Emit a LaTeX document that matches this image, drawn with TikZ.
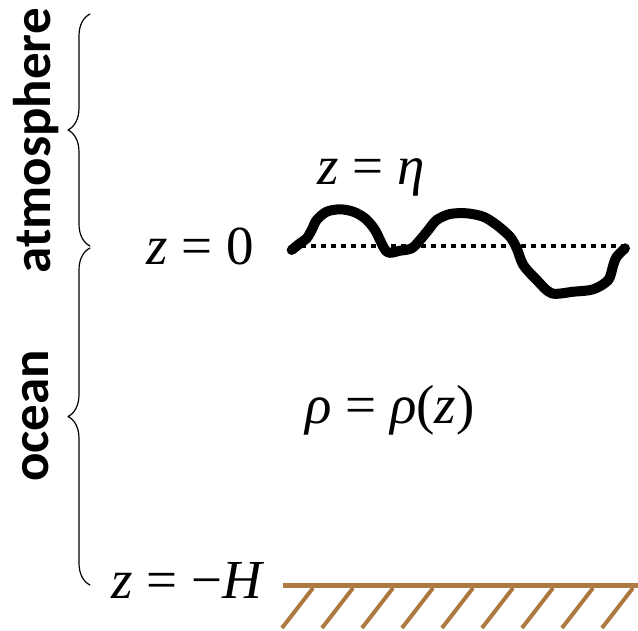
\documentclass[tikz,border=0pt]{standalone}
\usepackage{fontspec}
\setmainfont{Liberation Serif}
\newfontfamily\sidefont{Carlito}
\usetikzlibrary{decorations.pathreplacing}
\definecolor{seabed}{RGB}{173,123,66}
\begin{document}
\begin{tikzpicture}[x=1pt,y=-1pt,line join=round,line cap=round,
  eq/.style={inner sep=0pt,font=\fontsize{55}{55}\selectfont},
  side/.style={inner sep=0pt,rotate=90,font=\sidefont\bfseries\fontsize{53}{53}\selectfont},
  brc/.style={decorate,decoration={brace,amplitude=22pt},line width=1.2pt}]
\useasboundingbox (0,0) rectangle (638,630);
\path (90,585) coordinate (Bot)
      (90,248) coordinate (Mid)
      (90,246) coordinate (Mid')
      (90,14) coordinate (Top)
      (291,246) coordinate (L)
      (625,246) coordinate (R)
      (283,585) coordinate (G)
      (638,585) coordinate (G');
% braces
\draw[brc] (Mid')--(Top);
\draw[brc] (Bot)--(Mid);
\node[side] (atm) at (36,141) {atmosphere};
\node[side] (ocn) at (36,416) {ocean};
% labels
\node[eq] (eta) at (371,177) {\textit{z} = \textit{η}};
\node[eq] (zero) at (200,246) {\textit{z} = 0};
\node[eq] (rho) at (390,410) {\textit{ρ} = \textit{ρ}(\textit{z})};
\node[eq] (H) at (188,580) {\textit{z} = −\textit{H}};
% surface
\draw[line width=4pt,line cap=butt,dash pattern=on 5pt off 5pt] (L)--(R);
\draw[line width=10pt] plot[smooth,tension=0.5] coordinates{(291.7,250) (300,243.3) (306.7,238.3) (311.7,230) (316.7,220) (326.7,211.7) (340,209.3) (353.3,211.7) (365,218.3) (375,230) (386.7,251.7) (400,250.7) (411.7,248.3) (420,240) (428.3,230) (436.7,220) (450,214) (466.7,213.3) (483.3,216.7) (496.7,225) (510,236.7) (516.7,248.3) (523.3,265) (536.7,280) (551.7,293.3) (573.3,291.7) (593.3,289.3) (608.3,280) (613.3,265) (616.7,256.7) (625,248.3)};
% bottom
\draw[seabed,line width=5pt,line cap=butt] (G)--(G');
\foreach \x in {0,...,8}
  {\draw[seabed,line width=4pt,line cap=butt] (282+40*\x,628)--++(31,-40);}
\end{tikzpicture}
\end{document}
